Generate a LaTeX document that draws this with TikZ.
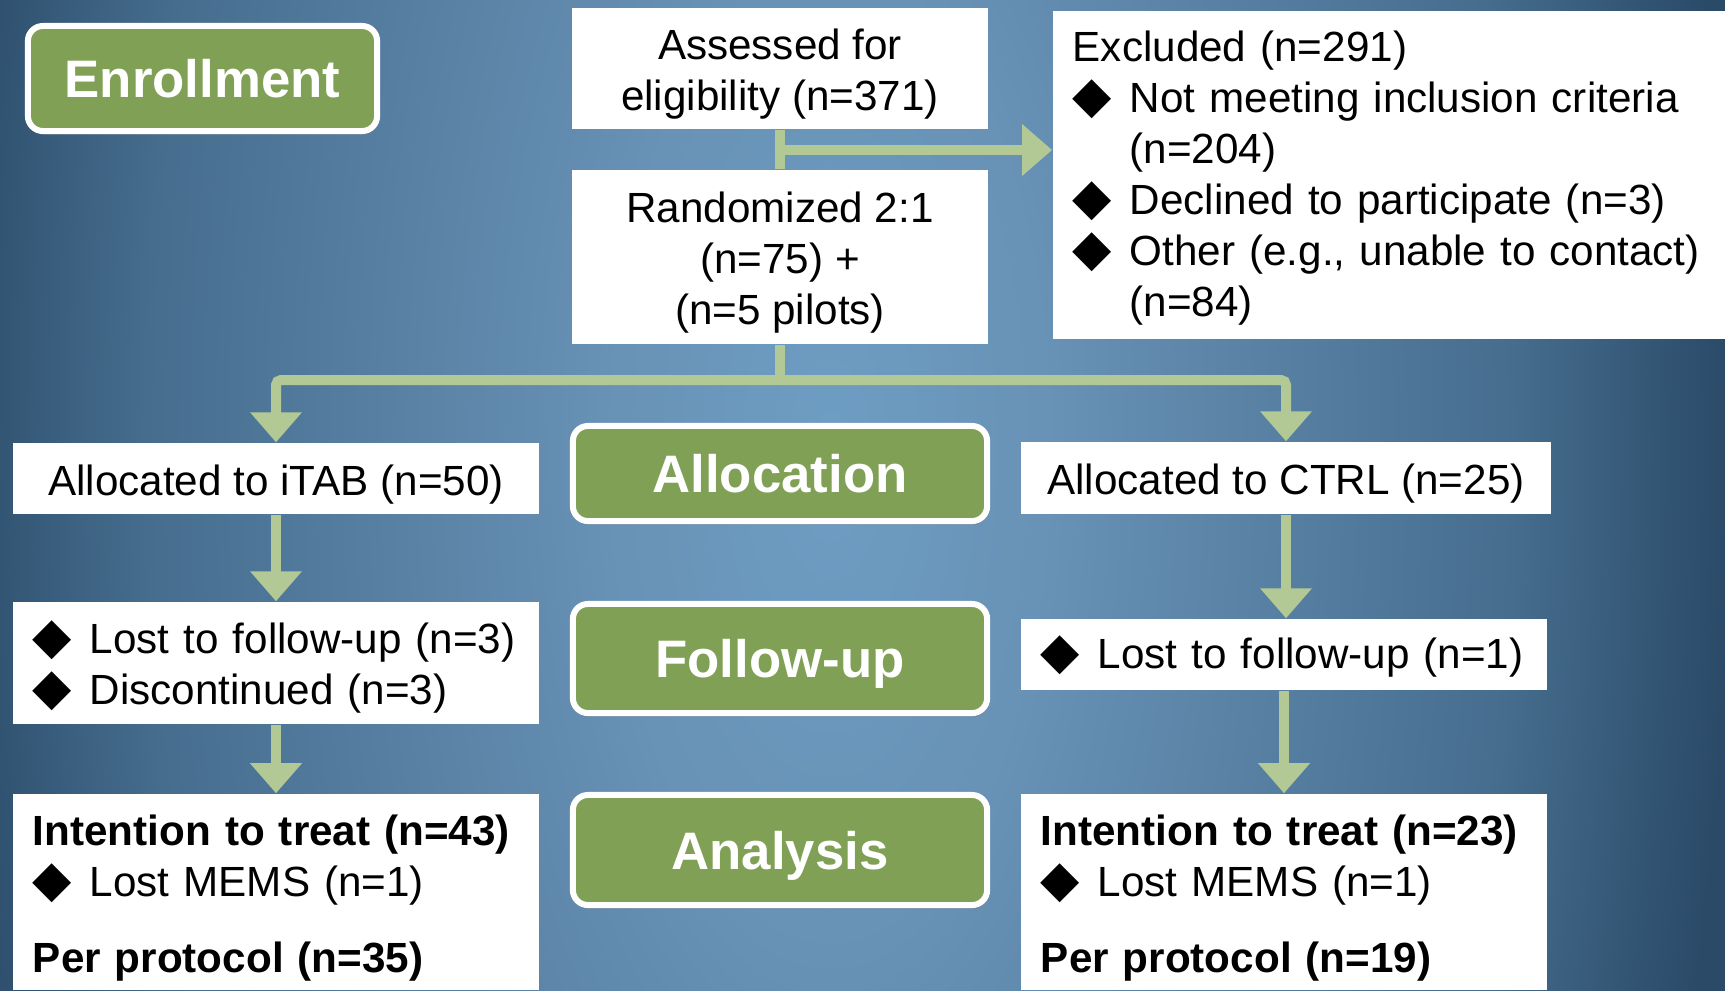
\documentclass[tikz,border=0pt]{standalone}
\usepackage{fontspec}
\setmainfont{Liberation Sans}
\newfontfamily\diafont{DejaVu Sans}
\usetikzlibrary{arrows.meta,shadows}
\definecolor{phasegreen}{HTML}{7FA055}
\definecolor{linegreen}{HTML}{B2C996}
\definecolor{bgA}{HTML}{6E9DC3}
\definecolor{bgB}{HTML}{6892B6}
\definecolor{bgC}{HTML}{466D8E}
\definecolor{bgD}{HTML}{2A4A68}
\pgfdeclareradialshading{bgshade}{\pgfpoint{0bp}{0bp}}{color(0bp)=(bgA); color(6bp)=(bgB); color(19bp)=(bgC); color(25bp)=(bgD); color(60bp)=(bgD)}
\newcommand{\bul}{\makebox[16.2pt][l]{\diafont\fontsize{14.5}{14.5}\selectfont ◆}}
\newcommand{\ind}{\hspace*{16.2pt}}
\newcommand{\tstrut}[1]{\rule{0pt}{#1em}}
\begin{document}
\begin{tikzpicture}[x=0.01cm,y=-0.01cm,
  every node/.style={font=\fontsize{12}{14.5}\selectfont},
  whitebox/.style={fill=white, inner sep=0pt, align=center},
  listbox/.style={fill=white, inner xsep=0.2cm, inner ysep=0pt, align=left},
  phase/.style={fill=phasegreen, draw=white, line width=0.06cm, rounded corners=0.15cm,
    text=white, font=\fontsize{15}{18}\selectfont\bfseries, text depth=0pt,
    drop shadow={shadow xshift=0.02cm, shadow yshift=-0.04cm, opacity=0.3}},
  conn/.style={draw=linegreen, line width=0.1cm},
  arr/.style={conn, -{Triangle[width=0.5cm,length=0.3cm]}}]
\useasboundingbox (0,0) rectangle (1725,990);
\begin{scope}
\clip (0,0) rectangle (1725,990);
\shade[shading=bgshade] (-70,-1550) rectangle (1730,2450);
\end{scope}

\node[phase, minimum width=3.49cm, minimum height=1.05cm] (enroll) at (202.5,78.5) {Enrollment};
\node[whitebox, minimum width=4.16cm, minimum height=1.21cm] (assess) at (780,68.5) {\tstrut{0.97}Assessed for\\eligibility (n=371)};
\node[whitebox, minimum width=4.16cm, minimum height=1.74cm] (rand) at (780,257) {\tstrut{0.97}Randomized 2:1\\(n=75) +\\(n=5 pilots)};
\node[listbox, text width=6.37cm, minimum height=3.28cm] (excl) at (1391.5,175) {\tstrut{0.85}Excluded (n=291)\\\bul Not meeting inclusion criteria\\\ind (n=204)\\\bul Declined to participate (n=3)\\\bul Other (e.g., unable to contact)\\\ind (n=84)};

\node[whitebox, minimum width=5.26cm, minimum height=0.71cm] (itab) at (276,478.5) {\tstrut{1}Allocated to iTAB (n=50)};
\node[phase, minimum width=4.14cm, minimum height=0.95cm] (alloc) at (780,473.5) {Allocation};
\node[whitebox, minimum width=5.30cm, minimum height=0.72cm] (ctrl) at (1286,478) {\tstrut{1}Allocated to CTRL (n=25)};

\node[listbox, text width=4.86cm, minimum height=1.22cm] (lfu) at (276,663) {\tstrut{0.95}\bul Lost to follow-up (n=3)\\\bul Discontinued (n=3)};
\node[phase, minimum width=4.14cm, minimum height=1.09cm] (follow) at (780,658.5) {Follow-up};
\node[listbox, text width=4.86cm, minimum height=0.71cm] (rfu) at (1284,654.5) {\tstrut{0.85}\bul Lost to follow-up (n=1)};

\node[listbox, text width=4.86cm, minimum height=1.96cm] (lan) at (276,892) {\tstrut{1}\textbf{Intention to treat (n=43)}\\\bul Lost MEMS (n=1)\\[7pt]\textbf{Per protocol (n=35)}};
\node[phase, minimum width=4.14cm, minimum height=1.10cm] (analysis) at (780,850) {Analysis};
\node[listbox, text width=4.86cm, minimum height=1.96cm] (ran) at (1284,892) {\tstrut{1}\textbf{Intention to treat (n=23)}\\\bul Lost MEMS (n=1)\\[7pt]\textbf{Per protocol (n=19)}};

\draw[conn] (assess.south) -- (rand.north);
\coordinate (j1) at (780,150);
\draw[arr] (j1) -- (j1 -| excl.west);
\coordinate (split) at (780,380);
\draw[conn] (rand.south) -- (split);
\draw[arr, rounded corners=0.05cm] (split) -| (itab.north);
\draw[arr, rounded corners=0.05cm] (split) -| (ctrl.north);
\draw[arr] (itab.south) -- (lfu.north);
\draw[arr] (lfu.south) -- (lan.north);
\draw[arr] (ctrl.south) -- (ctrl.south |- rfu.north);
\draw[arr] (rfu.south) -- (ran.north);
\end{tikzpicture}
\end{document}
